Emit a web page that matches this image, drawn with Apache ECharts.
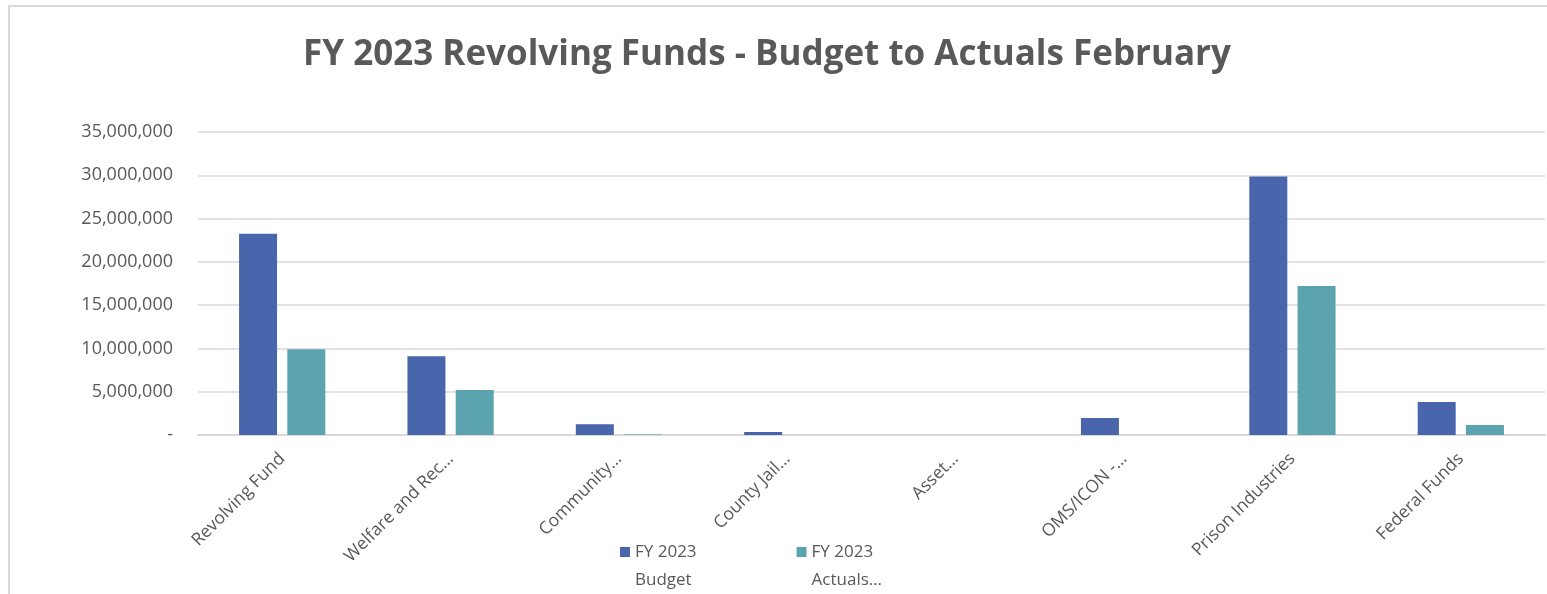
<!DOCTYPE html>
<html>
<head>
<meta charset="utf-8">
<style>
  html, body { margin: 0; padding: 0; background: #fff; }
  #chart { width: 1547px; height: 594px; }
</style>
<script src="https://cdn.jsdelivr.net/npm/echarts@6/dist/echarts.min.js"></script>
</head>
<body>
<div id="chart"></div>
<script>
const categories = ["Revolving Fund", "Welfare and Rec…", "Community…", "County Jail…", "Asset…", "OMS/ICON -…", "Prison Industries", "Federal Funds"];
const budget = [23250000, 9100000, 1250000, 350000, 0, 1950000, 29850000, 3800000];
const actuals = [9900000, 5200000, 50000, 0, 0, 0, 17200000, 1150000];
const seriesNames = ["FY 2023\nBudget", "FY 2023\nActuals…"];

const textColor = "#595959";
const font = "'Open Sans', 'Noto Sans', sans-serif";

const chart = echarts.init(document.getElementById("chart"));

chart.setOption({
  animation: false,
  textStyle: { fontFamily: font },
  title: {
    text: "FY 2023 Revolving Funds - Budget to Actuals February",
    left: 298,
    top: 33,
    textStyle: { fontSize: 35, fontWeight: "bold", color: textColor, fontFamily: font }
  },
  // outer chart frame
  graphic: [{
    type: "rect",
    shape: { x: 9, y: 6, width: 1560, height: 620 },
    style: { fill: "none", stroke: "#d9d9d9", lineWidth: 2 },
    silent: true
  }],
  legend: {
    left: 620,
    top: 510,
    padding: 0,
    itemWidth: 10,
    itemHeight: 10,
    itemGap: 100,
    icon: "rect",
    // blank first line keeps the marker level with "FY 2023"
    formatter: name => " \n" + name,
    textStyle: { fontSize: 17, color: textColor, lineHeight: 28, align: "left" },
    data: seriesNames
  },
  grid: { left: 198, right: 2, top: 132, bottom: 159, containLabel: false },
  xAxis: {
    type: "category",
    data: categories,
    axisLine: { lineStyle: { color: "#d9d9d9", width: 2 } },
    axisTick: { show: false },
    axisLabel: {
      rotate: 45,
      interval: 0,
      color: textColor,
      fontSize: 17.5,
      margin: 21
    }
  },
  yAxis: {
    type: "value",
    min: 0,
    max: 35000000,
    interval: 5000000,
    axisLine: { show: false },
    axisTick: { show: false },
    splitLine: { lineStyle: { color: "#d9d9d9", width: 1.5 } },
    axisLabel: {
      color: textColor,
      fontSize: 18,
      margin: 25,
      formatter: v => v === 0 ? "-" : v.toLocaleString("en-US")
    }
  },
  series: [
    {
      name: seriesNames[0],
      type: "bar",
      data: budget,
      barWidth: 38,
      barGap: "27%",
      itemStyle: { color: "#4966ad" }
    },
    {
      name: seriesNames[1],
      type: "bar",
      data: actuals,
      barWidth: 38,
      barGap: "27%",
      itemStyle: { color: "#5ba3af" }
    }
  ]
});
</script>
</body>
</html>
